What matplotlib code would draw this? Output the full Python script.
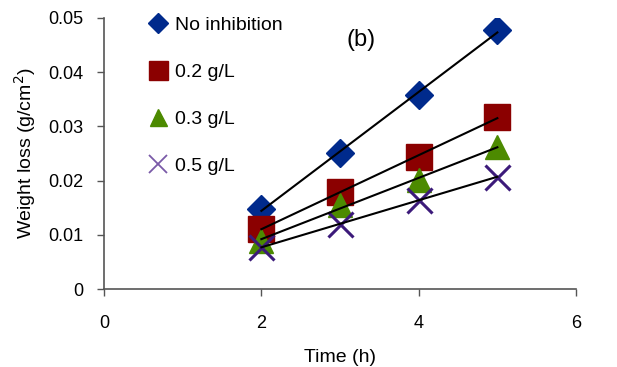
import numpy as np
import matplotlib
matplotlib.use('Agg')
import matplotlib.pyplot as plt

plt.rcParams['font.family'] = ['Liberation Sans', 'DejaVu Sans']

# weight loss (g/cm2) against immersion time (h)
time_h = [2, 3, 4, 5]
no_inhib = [0.0148, 0.0251, 0.0358, 0.0478]
inhib_02 = [0.0111, 0.0179, 0.0244, 0.0317]
inhib_03 = [0.0089, 0.0155, 0.0201, 0.0262]
inhib_05 = [0.0077, 0.0120, 0.0164, 0.0207]

labels = ['No inhibition', '0.2 g/L', '0.3 g/L', '0.5 g/L']
series = [no_inhib, inhib_02, inhib_03, inhib_05]
colors = ['#002a8c', '#8b0000', '#4c8a00', '#3c1a7a']
markers = ['D', 's', '^', 'x']
sizes = [14, 19, 17, 18]

fig = plt.figure(figsize=(6.17, 3.67), dpi=100)
ax = fig.add_axes([0.1686, 0.2125, 0.765, 0.7385])

for y, lab, c, m, s in zip(series, labels, colors, markers, sizes):
    if m == 'x':
        ax.plot(time_h, y, linestyle='none', marker=m, markersize=s, color=c,
                markeredgewidth=2.2, label=lab, zorder=2)
    else:
        ax.plot(time_h, y, linestyle='none', marker=m, markersize=s, color=c,
                markeredgecolor=c, label=lab, zorder=2)

# linear trendlines
for y in series:
    k, b = np.polyfit(time_h, y, 1)
    xs = np.array([time_h[0], time_h[-1]])
    ax.plot(xs, k * xs + b, color='black', linewidth=1.5, zorder=3)

ax.set_xlim(0, 6)
ax.set_ylim(0, 0.05)
ax.set_xticks([0, 2, 4, 6])
ax.set_yticks([0, 0.01, 0.02, 0.03, 0.04, 0.05])
ax.set_yticklabels(['0', '0.01', '0.02', '0.03', '0.04', '0.05'])
ax.tick_params(labelsize=13, length=5, width=1, color='#555555')
ax.tick_params(axis='y', pad=10)
ax.tick_params(axis='x', pad=14)
for sp in ['top', 'right']:
    ax.spines[sp].set_visible(False)
for sp in ['left', 'bottom']:
    ax.spines[sp].set_color('#555555')
    ax.spines[sp].set_linewidth(1.2)

ax.set_xlabel('Time (h)', fontsize=14, labelpad=12)
ax.set_ylabel('Weight loss (g/cm$^2$)', fontsize=14, labelpad=7)

ax.text(3.27, 0.046, '(b)', fontsize=17, ha='center', va='center')

leg = ax.legend(loc='upper left', bbox_to_anchor=(0.2277, 0.976), bbox_transform=fig.transFigure,
                frameon=False, fontsize=14, markerscale=0.72, labelspacing=1.5,
                borderaxespad=0, handletextpad=0.35, handlelength=1.0)
for h in leg.legend_handles:
    if h.get_marker() == 'x':
        h.set_markeredgewidth(1.3)
        h.set_color('#7a5aa8')

fig.savefig('out.png', dpi=100)
